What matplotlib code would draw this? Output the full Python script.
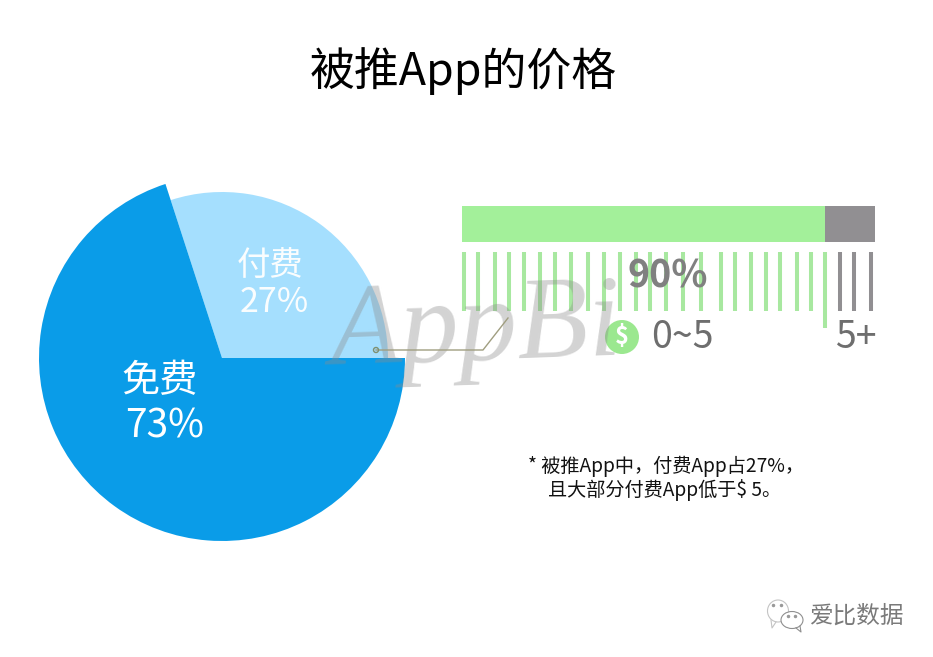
import matplotlib
matplotlib.use('Agg')

from matplotlib import pyplot as plt
from matplotlib.patches import Circle, Ellipse

plt.rcParams['font.family'] = ['Noto Sans CJK SC', 'DejaVu Sans']

W, H = 933, 657

# shares as drawn in the picture (the printed labels say 27 / 73)
pie_names = ['付费', '免费']
pie_labels = ['27%', '73%']
pie_shares = [30.0, 70.0]
pie_colors = ['#A5DFFE', '#0A9CE8']

# price bar, pixels wide per band
bar_shares = [363, 50]
bar_colors = ['#A3F09A', '#918F92']

# comb of ticks under the bar
green_ticks = [464, 478, 495, 509, 524, 540, 555, 571, 588, 604, 620, 636,
               650, 666, 683, 701, 721, 735, 751, 766, 780, 797, 811, 825]
grey_ticks = [840, 854, 871]

fig = plt.figure(figsize=(W / 100, H / 100), dpi=100, facecolor='white')
ax = fig.add_axes([0, 0, 1, 1])
ax.set_xlim(0, W)
ax.set_ylim(0, H)
ax.set_aspect('equal')


def Y(py):
    return H - py


# Pie, each slice has its own radius
cx, cy = 222, Y(358)
paid_angle = 360 * pie_shares[0] / sum(pie_shares)
ax.pie([pie_shares[0], pie_shares[1]], colors=[pie_colors[0], 'none'],
       center=(cx, cy), radius=166, startangle=0, frame=True)
ax.pie([pie_shares[1], pie_shares[0]], colors=[pie_colors[1], 'none'],
       center=(cx, cy), radius=183, startangle=paid_angle, frame=True)
ax.set_xlim(0, W)
ax.set_ylim(0, H)
ax.axis('off')

ax.text(270, Y(265), pie_names[0], color='white', fontsize=24, ha='center', va='center', alpha=0.95)
ax.text(274, Y(303), pie_labels[0], color='white', fontsize=24.5, ha='center', va='center', alpha=0.95)
ax.text(160, Y(382), pie_names[1], color='white', fontsize=27.5, ha='center', va='center')
ax.text(165, Y(426), pie_labels[1], color='white', fontsize=28, ha='center', va='center')

# Stacked bar
left = 462
for share, color in zip(bar_shares, bar_colors):
    ax.barh(Y(224), share, height=36, left=left, color=color, linewidth=0)
    left += share

# Tick comb
ax.vlines(green_ticks[:-1], Y(311), Y(252), color='#A8E8A0', linewidth=2.9)
ax.vlines(green_ticks[-1:], Y(328), Y(252), color='#A8E8A0', linewidth=2.9)
ax.vlines(grey_ticks, Y(311), Y(252), color='#918F92', linewidth=2.9)

ax.text(668, Y(276), '90%', color='#808080', fontsize=27, ha='center', va='center', fontweight='bold')

ax.add_patch(Circle((622, Y(337)), 17, color='#9BE88F', linewidth=0))
ax.text(622, Y(337), '$', color='white', fontsize=17, ha='center', va='center', fontweight='bold')
ax.text(682, Y(337), '0~5', color='#6E6E6E', fontsize=27, ha='center', va='center')
ax.text(856, Y(337), '5+', color='#6E6E6E', fontsize=27, ha='center', va='center')

# Title and note
ax.text(463, Y(71), '被推App的价格', color='black', fontsize=32.3, ha='center', va='center')
ax.text(666, Y(466), '* 被推App中，付费App占27%，', color='#111111', fontsize=13.8, ha='center', va='center')
ax.text(665, Y(490), '且大部分付费App低于$ 5。', color='#111111', fontsize=13.8, ha='center', va='center')

# Watermark
ax.text(475, Y(332), 'AppBi', color='#8C8C8C', alpha=0.38, fontsize=84, family='Liberation Serif',
        style='italic', ha='center', va='center', rotation=2, zorder=5)
ax.plot([376, 483, 508], [Y(350), Y(350), Y(318)], color='#A09E80', linewidth=1, zorder=6)
ax.add_patch(Circle((376, Y(350)), 2.5, facecolor='none', edgecolor='#7E8F70', linewidth=1, zorder=6))

# Logo in the corner
ax.add_patch(Ellipse((778, Y(611)), 21, 22, facecolor='white', edgecolor='#C4C4C4', linewidth=0.8))
ax.plot([771, 772, 776], [Y(620), Y(628), Y(622)], color='#C4C4C4', linewidth=0.8)
ax.add_patch(Ellipse((792, Y(620)), 22, 17, facecolor='white', edgecolor='#8F8F8F', linewidth=0.8))
ax.plot([796, 801, 800], [Y(628), Y(632), Y(626)], color='#8F8F8F', linewidth=0.8)
ax.plot([773, 781, 788, 795], [Y(605), Y(605), Y(616), Y(616)], linestyle='none', marker='o', markersize=1.5, color='#999999')
ax.text(857, Y(616), '爱比数据', color='#7A7A7A', fontsize=17, ha='center', va='center')

plt.savefig('out.png', dpi=100)
